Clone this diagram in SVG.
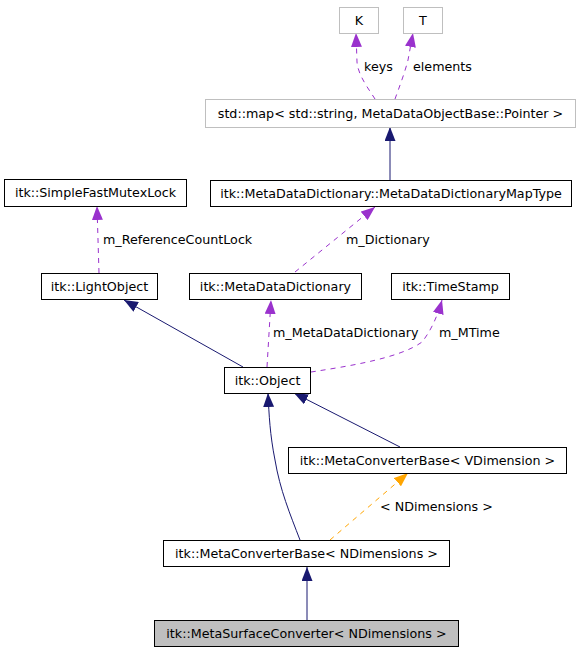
<svg xmlns="http://www.w3.org/2000/svg" width="581" height="653" viewBox="0 0 581 653">
<style>
text{font-family:"DejaVu Sans","Liberation Sans",sans-serif;font-size:12.7px;fill:#000}
.n rect{fill:#fff;stroke:#000;stroke-width:1}
.g rect{fill:#fff;stroke:#bfbfbf;stroke-width:1}
.c{text-anchor:middle}
.e path{fill:none;stroke-width:1}
.inh{stroke:#191970}
.dep{stroke:#9a32cd;stroke-dasharray:5,5}
.tpl{stroke:#ffa500;stroke-dasharray:5,5}
</style>
<defs>
<marker id="aB" markerUnits="userSpaceOnUse" viewBox="0 0 14 11" refX="14" refY="5.5" markerWidth="14" markerHeight="11" orient="auto"><path d="M0,0L14,5.5L0,11z" fill="#191970"/></marker>
<marker id="aP" markerUnits="userSpaceOnUse" viewBox="0 0 14 11" refX="14" refY="5.5" markerWidth="14" markerHeight="11" orient="auto"><path d="M0,0L14,5.5L0,11z" fill="#9a32cd"/></marker>
<marker id="aO" markerUnits="userSpaceOnUse" viewBox="0 0 14 11" refX="14" refY="5.5" markerWidth="14" markerHeight="11" orient="auto"><path d="M0,0L14,5.5L0,11z" fill="#ffa500"/></marker>
</defs>
<rect width="581" height="653" fill="#fff"/>
<g id="edges" class="e">
<path class="dep" d="M375,99C368,88 358,75 357,62L356,33" marker-end="url(#aP)"/>
<path class="dep" d="M395,99C399,88 405,72 408,60L413,33" marker-end="url(#aP)"/>
<path class="inh" d="M390,180L390,127" marker-end="url(#aB)"/>
<path class="dep" d="M295,272L375,207" marker-end="url(#aP)"/>
<path class="dep" d="M99,273L97,206" marker-end="url(#aP)"/>
<path class="inh" d="M243,367L124,300" marker-end="url(#aB)"/>
<path class="dep" d="M267,367L271,300" marker-end="url(#aP)"/>
<path class="dep" d="M311,372C350,366 400,358 422,342C430,332 437,318 442,300" marker-end="url(#aP)"/>
<path class="inh" d="M400,447L294,393" marker-end="url(#aB)"/>
<path class="inh" d="M300,540C290,514 280,490 275,460C270,435 269,415 268,393" marker-end="url(#aB)"/>
<path class="tpl" d="M330,540L408,473" marker-end="url(#aO)"/>
<path class="inh" d="M307,620L307,567" marker-end="url(#aB)"/>
<text x="364" y="71">keys</text>
<text x="413" y="71">elements</text>
<text x="346" y="244">m_Dictionary</text>
<text x="103" y="244">m_ReferenceCountLock</text>
<text x="273" y="337">m_MetaDataDictionary</text>
<text x="439" y="337">m_MTime</text>
<text x="380" y="511">&lt; NDimensions &gt;</text>
</g>
<g id="K" class="g"><rect x="339.5" y="7.5" width="39" height="26"/><text class="c" x="359" y="25">K</text></g>
<g id="T" class="g"><rect x="403.5" y="7.5" width="39" height="26"/><text class="c" x="423" y="25">T</text></g>
<g id="stdmap" class="g"><rect x="205.5" y="99.5" width="370" height="28"/><text class="c" x="390.5" y="118">std::map&lt; std::string, MetaDataObjectBase::Pointer &gt;</text></g>
<g id="MapType" class="n"><rect x="210.5" y="180.5" width="361" height="26"/><text class="c" x="391" y="198">itk::MetaDataDictionary::MetaDataDictionaryMapType</text></g>
<g id="SimpleFastMutexLock" class="n"><rect x="4.5" y="179.5" width="182" height="27"/><text class="c" x="95.5" y="197">itk::SimpleFastMutexLock</text></g>
<g id="LightObject" class="n"><rect x="41.5" y="273.5" width="116" height="26"/><text class="c" x="99.5" y="291">itk::LightObject</text></g>
<g id="MetaDataDictionary" class="n"><rect x="189.5" y="273.5" width="172" height="26"/><text class="c" x="275.5" y="291">itk::MetaDataDictionary</text></g>
<g id="TimeStamp" class="n"><rect x="391.5" y="273.5" width="118" height="26"/><text class="c" x="450.5" y="291">itk::TimeStamp</text></g>
<g id="Object" class="n"><rect x="224.5" y="367.5" width="86" height="26"/><text class="c" x="267.5" y="385">itk::Object</text></g>
<g id="MetaConverterBaseV" class="n"><rect x="288.5" y="447.5" width="278" height="26"/><text class="c" x="427.5" y="465">itk::MetaConverterBase&lt; VDimension &gt;</text></g>
<g id="MetaConverterBaseN" class="n"><rect x="163.5" y="540.5" width="286" height="26"/><text class="c" x="306.5" y="558">itk::MetaConverterBase&lt; NDimensions &gt;</text></g>
<g id="MetaSurfaceConverter" class="n"><rect x="154.5" y="620.5" width="304" height="26" style="fill:#bfbfbf"/><text class="c" x="306.5" y="638">itk::MetaSurfaceConverter&lt; NDimensions &gt;</text></g>
</svg>
